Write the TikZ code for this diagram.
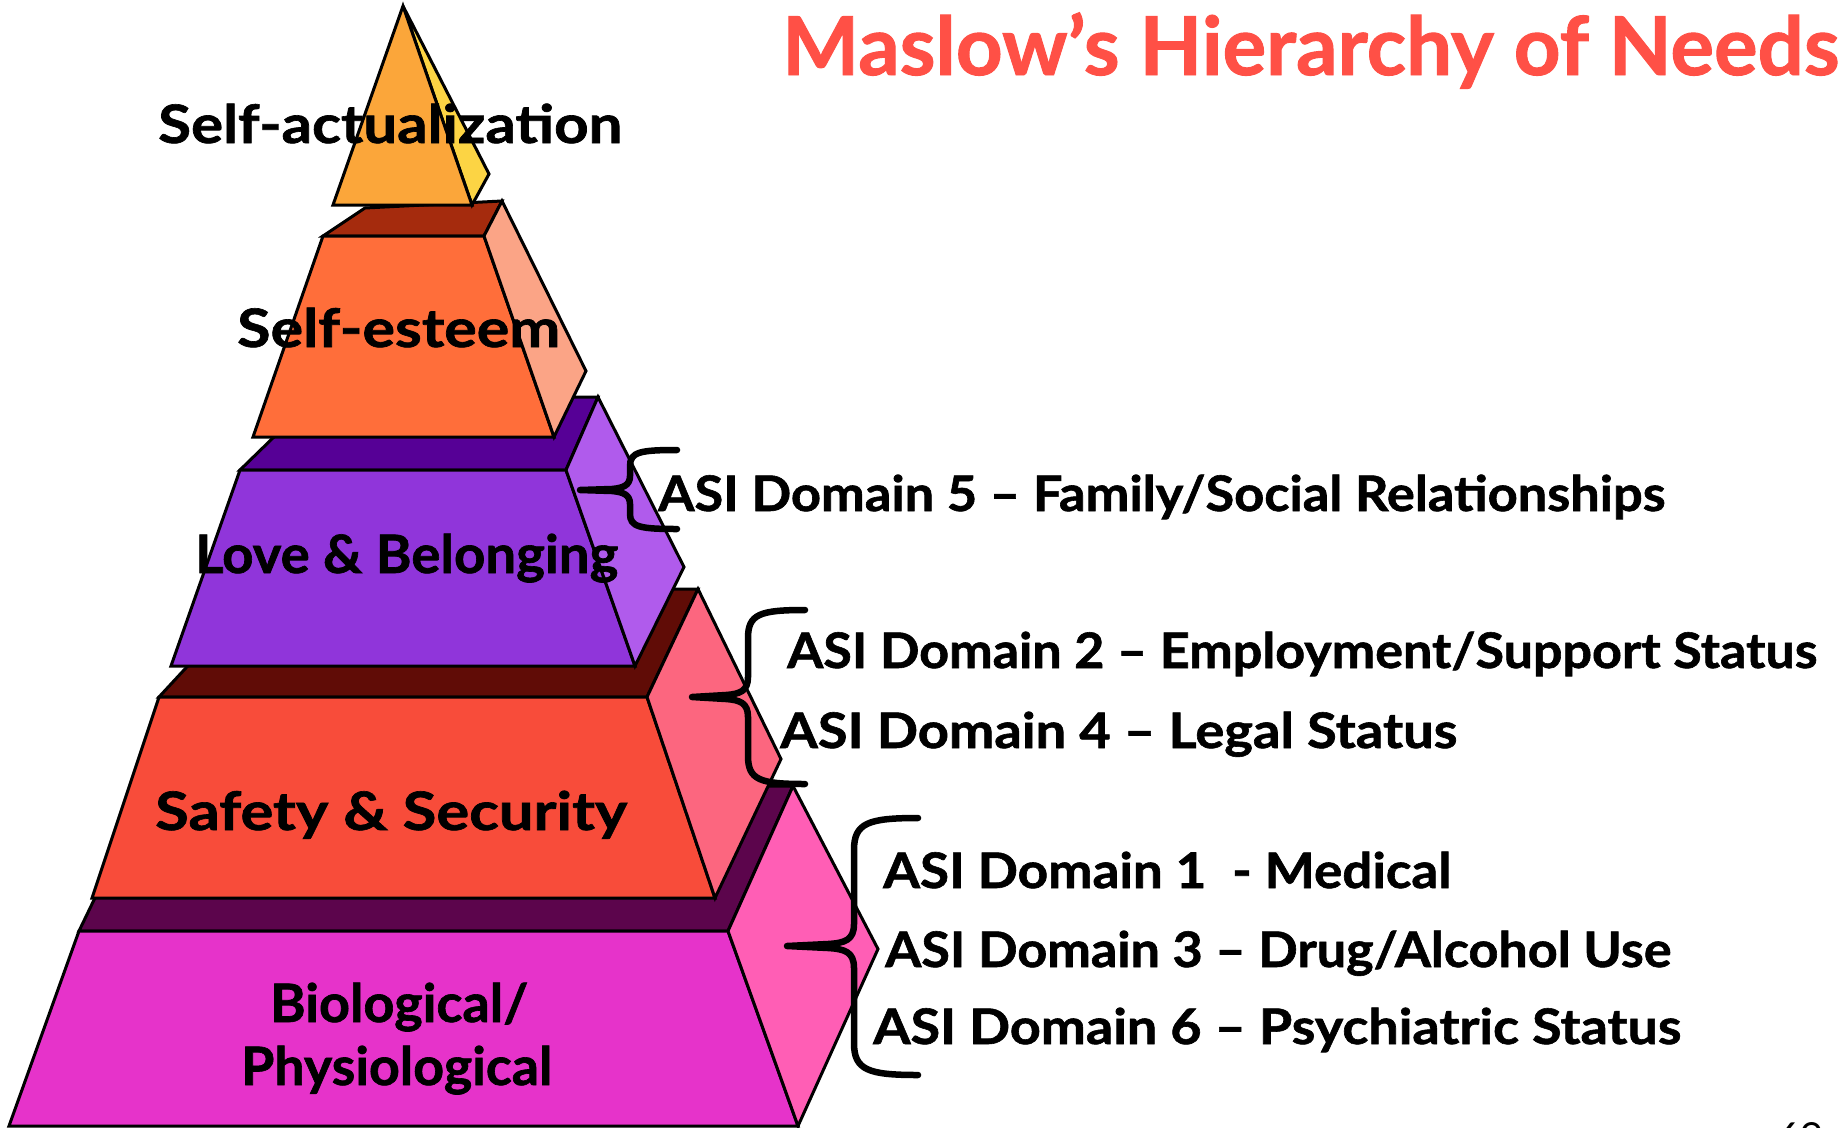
\documentclass[tikz,border=0pt]{standalone}
\usepackage{fontspec}
\setmainfont{Lato}[BoldFeatures={FakeBold=1.2}]
\usepackage{graphicx}
\newlength\fitlen
\newcommand\fitx[2]{\settowidth\fitlen{#2}\pgfmathsetmacro\fitsx{#1/\fitlen}\scalebox{\fitsx}[1]{#2}}
\definecolor{triF}{HTML}{FBA63A}
\definecolor{triS}{HTML}{FCD444}
\definecolor{seF}{HTML}{FF6E3A}
\definecolor{seT}{HTML}{A52B0D}
\definecolor{seS}{HTML}{FBA486}
\definecolor{lbF}{HTML}{9035DA}
\definecolor{lbT}{HTML}{560096}
\definecolor{lbS}{HTML}{B05BEC}
\definecolor{ssF}{HTML}{F84C3A}
\definecolor{ssT}{HTML}{600C06}
\definecolor{ssS}{HTML}{FC667F}
\definecolor{bpF}{HTML}{E633CA}
\definecolor{bpT}{HTML}{5C054C}
\definecolor{bpS}{HTML}{FF5EB5}
\definecolor{titleC}{HTML}{FF5046}
\begin{document}
\begin{tikzpicture}[x=1pt,y=-1pt,
  face/.style={draw=black,line width=3,line join=miter},
  bracestroke/.style={draw=black,line width=6.5,line cap=round,line join=round},
  lbl/.style={anchor=base west,inner sep=0pt,font=\fontsize{53}{60}\selectfont\bfseries,text=black},
  dom/.style={anchor=base west,inner sep=0pt,font=\fontsize{49}{56}\selectfont\bfseries,text=black},
  ttl/.style={anchor=base west,inner sep=0pt,font=\fontsize{81}{90}\selectfont\bfseries,text=titleC}]
\useasboundingbox (0,0) rectangle (1841,1127);
\clip (0,0) rectangle (1841,1127);
% Biological / Physiological block
\filldraw[face,fill=bpT] (79,931) -- (149,786) -- (793,786) -- (728,931) -- cycle;
\filldraw[face,fill=bpF] (79,931) -- (728,931) -- (798,1126) -- (9,1126) -- cycle;
\filldraw[face,fill=bpS] (728,931) -- (793,786) -- (878,949) -- (798,1126) -- cycle;
% Safety & Security block
\filldraw[face,fill=ssT] (159,697) -- (259,589) -- (698,589) -- (647,697) -- cycle;
\filldraw[face,fill=ssF] (159,697) -- (647,697) -- (715,898) -- (92,898) -- cycle;
\filldraw[face,fill=ssS] (647,697) -- (698,589) -- (781,759) -- (715,898) -- cycle;
% Love & Belonging block
\filldraw[face,fill=lbT] (240,470) -- (315,397) -- (598,397) -- (566,470) -- cycle;
\filldraw[face,fill=lbF] (240,470) -- (566,470) -- (635,666) -- (171,666) -- cycle;
\filldraw[face,fill=lbS] (566,470) -- (598,397) -- (684,567) -- (635,666) -- cycle;
% Self-esteem block
\filldraw[face,fill=seT] (323,236) -- (365,208) -- (502,201) -- (484,236) -- cycle;
\filldraw[face,fill=seF] (323,236) -- (484,236) -- (554,437) -- (253,437) -- cycle;
\filldraw[face,fill=seS] (484,236) -- (502,201) -- (586,371) -- (554,437) -- cycle;
% Self-actualization triangle
\filldraw[face,fill=triS] (403,6) -- (489,174) -- (472,205) -- cycle;
\filldraw[face,fill=triF] (403,6) -- (472,205) -- (333,205) -- cycle;
% braces
\coordinate (b5tip) at (580,490);
\draw[bracestroke] (677,450) .. controls (640,450) and (630,452) .. (630,466) -- (630,476) .. controls (630,486) and (622,488) .. (612,489) -- (b5tip) -- (612,491) .. controls (622,492) and (630,494) .. (630,504) -- (630,514) .. controls (630,527) and (640,529) .. (677,529);
\coordinate (b24tip) at (692,697);
\draw[bracestroke] (805,610) .. controls (760,610) and (748,614) .. (748,638) -- (748,677) .. controls (748,691) and (740,694) .. (726,695) -- (b24tip) -- (726,699) .. controls (740,700) and (748,703) .. (748,717) -- (748,756) .. controls (748,780) and (760,784) .. (805,784);
\coordinate (b136tip) at (787,946);
\draw[bracestroke] (918,818) .. controls (868,818) and (854,823) .. (854,850) -- (854,924) .. controls (854,940) and (845,943) .. (828,944) -- (b136tip) -- (828,948) .. controls (845,949) and (854,952) .. (854,968) -- (854,1043) .. controls (854,1070) and (868,1075) .. (918,1075);
% labels
\node[ttl] (title) at (782,75) {\fitx{1057}{Maslow’s Hierarchy of Needs}};
\node[lbl] (selfact) at (158,143) {\fitx{464}{Self-actualization}};
\node[lbl] (selfest) at (237,347) {\fitx{323}{Self-esteem}};
\node[lbl] (love) at (195,573) {\fitx{423}{Love \& Belonging}};
\node[lbl] (safety) at (155,830) {\fitx{472}{Safety \& Security}};
\node[lbl] (bio1) at (270,1022) {\fitx{258}{Biological/}};
\node[lbl] (bio2) at (241,1085) {\fitx{311}{Physiological}};
\node[dom] (d5) at (658,511) {\fitx{1007}{ASI Domain 5 – Family/Social Relationships}};
\node[dom] (d2) at (787,668) {\fitx{1030}{ASI Domain 2 – Employment/Support Status}};
\node[dom] (d4) at (780,748) {\fitx{677}{ASI Domain 4 – Legal Status}};
\node[dom] (d1) at (883,888) {\fitx{568}{ASI Domain 1 \ - Medical}};
\node[dom] (d3) at (885,967) {\fitx{786}{ASI Domain 3 – Drug/Alcohol Use}};
\node[dom] (d6) at (873,1044) {\fitx{808}{ASI Domain 6 – Psychiatric Status}};
\node[anchor=base west,inner sep=0pt,font=\fontsize{40}{40}\selectfont] (pg) at (1777,1151) {69};
\end{tikzpicture}
\end{document}
